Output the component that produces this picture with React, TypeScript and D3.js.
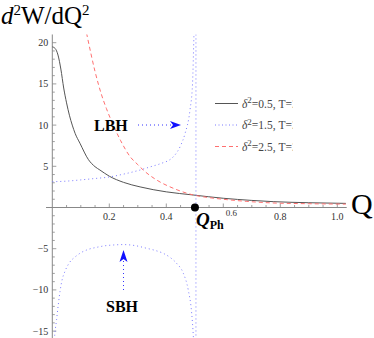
import React from "react";
import * as d3 from "d3";

const W = 374;
const H = 338;

// delta^2 = 0.5 (solid)
const blackQ = [0, 0.01, 0.02, 0.03, 0.04, 0.05, 0.06, 0.07, 0.08, 0.097, 0.127, 0.15, 0.167, 0.2, 0.25, 0.308, 0.4, 0.494, 0.6, 0.7, 0.775, 0.9, 1.03];
const blackV = [19.5, 19.3, 18.5, 16.8, 14.5, 12.7, 11.2, 10.0, 9.0, 7.8, 5.8, 4.95, 4.55, 3.8, 3.05, 2.5, 1.9, 1.52, 1.12, 0.86, 0.71, 0.58, 0.5];

// delta^2 = 2.5 (dashed)
const redQ = [0.115, 0.123, 0.15, 0.173, 0.19, 0.214, 0.24, 0.273, 0.3, 0.319, 0.366, 0.42, 0.495, 0.55, 0.599, 0.68, 0.774, 0.9, 1.03];
const redV = [22, 20.7, 16.5, 13.65, 12.0, 10.0, 8.1, 6.17, 5.2, 4.55, 3.34, 2.4, 1.52, 1.2, 1.0, 0.75, 0.55, 0.46, 0.41];

// delta^2 = 1.5 (dotted) — large black hole branch
const blueUpQ = [0, 0.05, 0.1, 0.15, 0.191, 0.25, 0.308, 0.35, 0.378, 0.425, 0.45, 0.466, 0.483, 0.492, 0.497, 0.5];
const blueUpV = [3.13, 3.2, 3.35, 3.52, 3.66, 4.05, 4.55, 5.0, 5.3, 6.17, 7.5, 9.0, 11.8, 15.0, 21.0, 25.0];

// delta^2 = 1.5 (dotted) — small black hole branch
const blueLoQ = [0.003, 0.009, 0.015, 0.021, 0.027, 0.033, 0.045, 0.06, 0.08, 0.097, 0.125, 0.156, 0.19, 0.214, 0.249, 0.29, 0.331, 0.36, 0.389, 0.415, 0.436, 0.46, 0.477, 0.489, 0.495, 0.499];
const blueLoV = [-18, -15.3, -13.6, -11.8, -10.2, -9.0, -7.7, -6.7, -6.0, -5.56, -5.1, -4.83, -4.62, -4.55, -4.5, -4.62, -4.95, -5.2, -5.56, -6.1, -6.77, -8.0, -10.0, -12.8, -15.7, -18.5];

const QPh = 0.504;

const yMajor = [-15, -10, -5, 5, 10, 15, 20];
const xMajor = [0.2, 0.4, 0.6, 0.8, 1.0];
const xMajorLabels = ["0.2", "0.4", "0.6", "0.8", "1.0"];

const legendItems = [
  { d: "0.5", T: "2" },
  { d: "1.5", T: "2" },
  { d: "2.5", T: "2" },
];

export default function App() {
  const x = d3.scaleLinear().domain([0, 1]).range([52.3, 337.3]);
  const y = d3.scaleLinear().domain([0, 20]).range([207.5, 42.7]);

  const xMin = -0.022, xMax = 1.033;
  const yMin = -16.8, yMax = 21.0;

  const mk = (qs: number[], vs: number[]) =>
    d3.line<number>()
      .x((_, i) => x(qs[i]))
      .y((_, i) => y(vs[i]))
      .curve(d3.curveMonotoneX)(qs) as string;

  const blue = "#7a7aff";
  const red = "#ff7070";
  const gray = "#555";
  const axisColor = "#888";
  const tickFont = "'Liberation Serif', serif";

  const xMinor = d3.range(1, 21).map((i) => i * 0.05);
  const yMinor = d3.range(-16, 21).filter((v) => v !== 0);

  return (
    <div style={{ position: "fixed", left: 0, top: 0 }}>
      <svg width={W} height={H} style={{ display: "block", background: "#fff" }}>
        <defs>
          <clipPath id="plot">
            <rect x={x(xMin)} y={y(yMax)} width={x(xMax) - x(xMin)} height={y(yMin) - y(yMax)} />
          </clipPath>
          <clipPath id="leg">
            <rect x={200} y={80} width={92.5} height={90} />
          </clipPath>
        </defs>

        {/* title */}
        <text x={1} y={24} fontFamily="'Liberation Serif', serif" fontSize={25} fill="#000">
          <tspan fontStyle="italic">d</tspan>
          <tspan fontSize={15} dy={-9}>2</tspan>
          <tspan dy={9}>W/dQ</tspan>
          <tspan fontSize={15} dy={-9}>2</tspan>
        </text>

        {/* axes */}
        <line x1={x(xMin)} x2={x(xMax)} y1={y(0)} y2={y(0)} stroke={axisColor} strokeWidth={1} />
        <line x1={x(0)} x2={x(0)} y1={y(yMax)} y2={y(yMin)} stroke={axisColor} strokeWidth={1} />
        {xMinor.map((v, i) => {
          const major = Math.abs((v * 10) % 2) < 1e-6 || Math.abs((v * 10) % 2 - 2) < 1e-6;
          return <line key={"xm" + i} x1={x(v)} x2={x(v)} y1={y(0)} y2={y(0) - (major ? 4 : 2.5)} stroke={axisColor} strokeWidth={0.8} />;
        })}
        {yMinor.map((v, i) => {
          const major = v % 5 === 0;
          return <line key={"ym" + i} x1={x(0)} x2={x(0) + (major ? 4 : 2.5)} y1={y(v)} y2={y(v)} stroke={axisColor} strokeWidth={0.8} />;
        })}
        {yMajor.map((v) => (
          <text key={"yl" + v} x={x(0) - 4} y={y(v) + 3.5} textAnchor="end" fontFamily={tickFont} fontSize={10} fill="#333">
            {v < 0 ? "\u2212" + Math.abs(v) : String(v)}
          </text>
        ))}
        {xMajor.map((v, i) => {
          const shifted = Math.abs(v - 0.6) < 1e-6;
          return (
            <text key={"xl" + v} x={x(v) + (shifted ? 8 : 0)} y={y(0) + (shifted ? 8 : 12)} textAnchor="middle" fontFamily={tickFont} fontSize={shifted ? 9 : 10} fill="#333">
              {xMajorLabels[i]}
            </text>
          );
        })}

        {/* curves */}
        <g clipPath="url(#plot)" fill="none">
          <path d={mk(blackQ, blackV)} stroke={gray} strokeWidth={1} />
          <path d={mk(redQ, redV)} stroke={red} strokeWidth={1} strokeDasharray="4,3" />
          <path d={mk(blueUpQ, blueUpV)} stroke={blue} strokeWidth={1} strokeDasharray="1,3" />
          <path d={mk(blueLoQ, blueLoV)} stroke={blue} strokeWidth={1} strokeDasharray="1,3" />
          <line x1={x(QPh)} x2={x(QPh)} y1={y(yMax)} y2={y(yMin)} stroke={blue} strokeWidth={1} strokeDasharray="1,3" />
        </g>

        {/* Q axis label */}
        <text x={351} y={214} fontFamily="'Liberation Serif', serif" fontSize={30} fill="#000">Q</text>

        {/* Q_Ph */}
        <circle cx={x(QPh) - 1} cy={y(0)} r={4} fill="#000" />
        <text x={196} y={226} fontFamily="'Liberation Serif', serif" fontWeight="bold" fill="#000">
          <tspan fontStyle="italic" fontSize={19}>Q</tspan>
          <tspan fontSize={12} dy={3}>Ph</tspan>
        </text>

        {/* LBH annotation */}
        <text x={94} y={131} fontFamily="'Liberation Serif', serif" fontWeight="bold" fontSize={16} fill="#000">LBH</text>
        <line x1={138} x2={171} y1={125} y2={125} stroke="#3333ff" strokeWidth={1} strokeDasharray="1,3" />
        <path d="M170,121 L181,125 L170,129 L173,125 Z" fill="#1010ff" />

        {/* SBH annotation */}
        <text x={106} y={312} fontFamily="'Liberation Serif', serif" fontWeight="bold" fontSize={16} fill="#000">SBH</text>
        <line x1={123.5} x2={123.5} y1={290} y2={260} stroke="#3333ff" strokeWidth={1} strokeDasharray="1,3" />
        <path d="M119.5,262 L123.5,250 L127.5,262 L123.5,259 Z" fill="#1010ff" />

        {/* legend */}
        <g clipPath="url(#leg)">
          {legendItems.map((it, i) => {
            const ly = 103.5 + i * 21.5;
            const stroke = i === 0 ? gray : i === 1 ? blue : red;
            const dash = i === 0 ? undefined : i === 1 ? "1,2.5" : "4,3";
            return (
              <g key={"lg" + i}>
                <line x1={215} x2={238} y1={ly} y2={ly} stroke={stroke} strokeWidth={1} strokeDasharray={dash} />
                <text x={242} y={ly + 4} fontFamily="'Liberation Serif', serif" fontSize={11.5} fill="#444">
                  <tspan fontStyle="italic">δ</tspan>
                  <tspan fontSize={9} dy={-4.5}>2</tspan>
                  <tspan dy={4.5}>{"=" + it.d + ", T=" + it.T}</tspan>
                </text>
              </g>
            );
          })}
        </g>
      </svg>
    </div>
  );
}
